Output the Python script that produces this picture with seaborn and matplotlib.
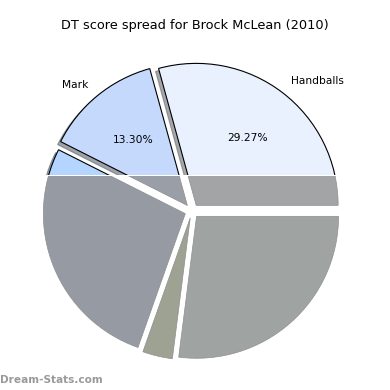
import matplotlib
matplotlib.use('Agg')
import matplotlib.pyplot as plt
import seaborn as sns
from matplotlib.patches import Rectangle

# chart data
title = 'DT score spread for Brock McLean (2010)'
categories = ['Handballs', 'Mark', '', '', '']
shares = [29.27, 13.30, 27.02, 3.40, 27.01]
n_pct_shown = 2  # only the two top slices show their percentage
watermark = 'Dream-Stats.com'

# colours of the upper part and of the greyed-out lower part of each slice
top_colors = ['#e9f1fe', '#c5d9fd', '#b4d5ff', '#c4ccb0', '#d9e6e4']
shade_colors = ['#a3a4a6', '#9a9ea6', '#969aa3', '#9ea293', '#9fa4a3']

sns.set_style('white')
plt.rcParams['font.family'] = ['DejaVu Sans']

fig = plt.figure(figsize=(3.9, 3.9), dpi=100)
ax = fig.add_axes([0.037, 0.004, 0.91, 0.91])

explode = [0.05] * len(shares)
cut = 0.25  # y (data units) below which the pie is greyed out

wedges, texts, autotexts = ax.pie(
    shares, labels=categories, explode=explode, colors=top_colors,
    autopct='%.2f%%', startangle=0,
    shadow=dict(ox=-0.015, oy=-0.015, shade=0.6, alpha=0.55),
    wedgeprops=dict(edgecolor='black', linewidth=0.8),
    textprops=dict(fontsize=7.7, color='black'))

upper = Rectangle((-2, cut), 4, 3, transform=ax.transData)
for p in list(ax.patches):
    p.set_clip_on(True)
    p.set_clip_path(upper)
for t in autotexts[n_pct_shown:]:
    t.set_visible(False)

# grey lower half
shade, _ = ax.pie(shares, explode=explode, colors=shade_colors, startangle=0,
                  wedgeprops=dict(edgecolor='#8e8e8e', linewidth=0.5))
lower = Rectangle((-2, cut - 4), 4, 4, transform=ax.transData)
for w in shade:
    w.set_clip_on(True)
    w.set_clip_path(lower)

ax.set_xlim(-1.25, 1.25)
ax.set_ylim(-1.25, 1.25)
ax.set_aspect('equal')

fig.text(0.5, 1 - 25 / 390, title, ha='center', va='center',
         fontsize=9.3, color='black')
fig.text(0.0, 1 - 380 / 390, watermark, ha='left', va='center',
         fontsize=7.6, fontweight='bold', color='#9a9a9a')

fig.savefig('out.png', dpi=100)
